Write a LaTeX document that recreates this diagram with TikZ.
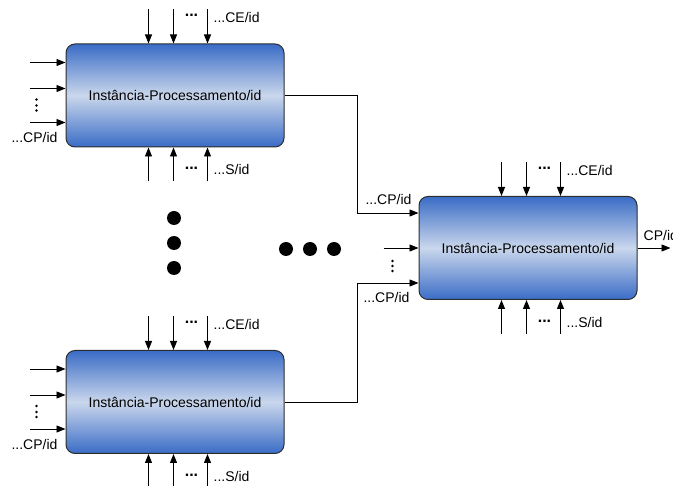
\documentclass[tikz,border=0pt]{standalone}
\usepackage{fontspec}
\setmainfont{Liberation Sans}
\usetikzlibrary{arrows.meta,calc}

\definecolor{boxdark}{RGB}{58,108,198}
\definecolor{boxlight}{RGB}{202,215,236}
\definecolor{boxedge}{RGB}{45,45,45}

\tikzset{
  procbox/.style={draw=boxedge, line width=1pt, rounded corners=9pt,
    minimum width=218pt, minimum height=103pt, inner sep=0pt,
    top color=boxdark, bottom color=boxdark, middle color=boxlight,
    font=\fontsize{14}{16}\selectfont},
  arr/.style={draw=black, line width=0.9pt, -{Triangle[length=9pt,width=7pt]}},
  lbl/.style={inner sep=0pt, font=\fontsize{14}{16}\selectfont},
  ell/.style={inner sep=0pt, font=\fontsize{16}{18}\selectfont\bfseries},
  bigdot/.style={fill=black, draw=none},
  smalldot/.style={fill=black, draw=none}
}

\begin{document}
\begin{tikzpicture}[x=1pt, y=-1pt]
  \useasboundingbox (0,0) rectangle (673,486);

  % processing instances
  \node[procbox] (p1) at (175,95.5) {Instância-Processamento/id};
  \node[procbox] (p2) at (175,402)  {Instância-Processamento/id};
  \node[procbox] (p3) at (528,248)  {Instância-Processamento/id};

  % top (CE) and bottom (S) inputs of every instance
  \foreach \b in {p1,p2,p3} {
    \foreach \dx in {83,108,142} {
      \draw[arr] ([xshift=\dx pt,yshift=34pt]\b.north west) -- ([xshift=\dx pt]\b.north west);
      \draw[arr] ([xshift=\dx pt,yshift=-34pt]\b.south west) -- ([xshift=\dx pt]\b.south west);
    }
    \node[ell] at ([xshift=126pt,yshift=28pt]\b.north west) {...};
    \node[lbl, anchor=west] at ([xshift=148pt,yshift=26pt]\b.north west) {...CE/id};
    \node[ell] at ([xshift=126pt,yshift=-21pt]\b.south west) {...};
    \node[lbl, anchor=west] at ([xshift=148pt,yshift=-22pt]\b.south west) {...S/id};
  }

  % left (CP) inputs of the two source instances
  \foreach \b in {p1,p2} {
    \foreach \dy in {19,45,79} {
      \draw[arr] ([xshift=-36pt,yshift=-\dy pt]\b.north west) -- ([yshift=-\dy pt]\b.north west);
    }
    \foreach \dy in {56,62,67} {
      \fill[smalldot] ([xshift=-29pt,yshift=-\dy pt]\b.north west) circle (1.4pt);
    }
    \node[lbl] at ([xshift=-31pt,yshift=-94pt]\b.north west) {...CP/id};
  }

  % inputs of the target instance
  \coordinate (in1) at ([yshift=-17pt]p3.north west);
  \coordinate (in3) at ([yshift=17pt]p3.south west);
  \draw[arr] (p1.east) -- ++(73,0) |- (in1);
  \draw[arr] (p2.east) -- ++(73,0) |- (in3);
  \draw[arr] ([xshift=-35pt]p3.west) -- (p3.west);
  \foreach \dy in {13,18,23} {
    \fill[smalldot] ([xshift=-26pt,yshift=-\dy pt]p3.west) circle (1.4pt);
  }
  \node[lbl] at ([xshift=-30pt,yshift=-3pt]p3.north west) {...CP/id};
  \node[lbl] at ([xshift=-32pt,yshift=3pt]p3.south west) {...CP/id};

  % output of the target instance
  \draw[arr] (p3.east) -- ++(33,0);
  \node[lbl, anchor=west] at ([xshift=6pt,yshift=13pt]p3.east) {CP/id};

  % further instances
  \foreach \y in {218,243,268} \fill[bigdot] (174,\y) circle (7pt);
  \foreach \x in {286,310,334} \fill[bigdot] (\x,249) circle (7pt);
\end{tikzpicture}
\end{document}
